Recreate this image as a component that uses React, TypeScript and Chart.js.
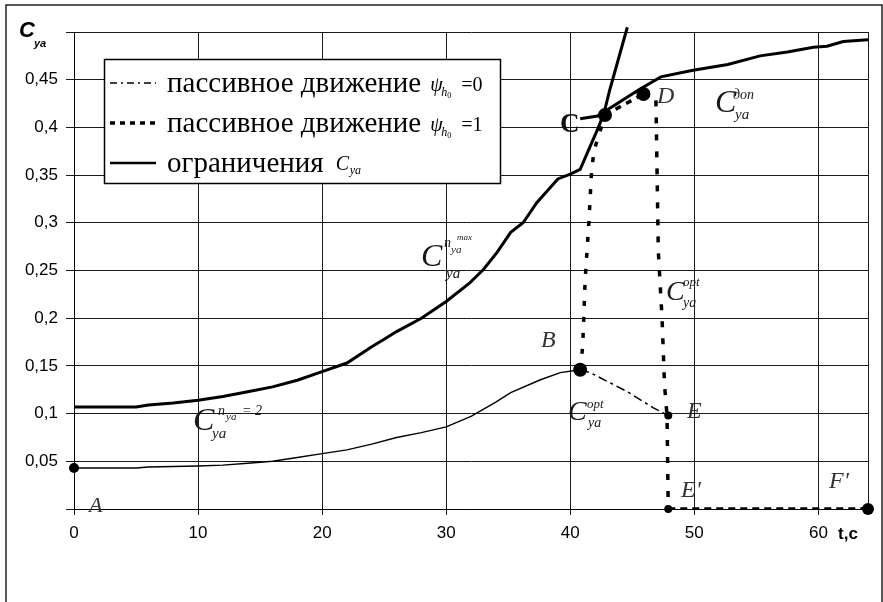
import React, { useEffect, useRef } from 'react';
import { Chart, registerables } from 'chart.js';

Chart.register(...registerables);

// ---- data (t, s ; C_ya) ----
// limit curve n_ya=2 ... n_ya max
const limitT = [0, 5, 6, 8, 10, 12, 14, 16, 18, 20, 22, 24, 25, 26, 28, 30, 31.9, 33, 34.1, 35.2, 36.2, 37.3, 39, 40, 40.8, 42.2, 42.7, 43.2, 44.6];
const limitC = [0.107, 0.107, 0.109, 0.111, 0.114, 0.118, 0.123, 0.128, 0.135, 0.144, 0.153, 0.17, 0.178, 0.186, 0.2, 0.2175, 0.237, 0.251, 0.269, 0.29, 0.3, 0.321, 0.346, 0.351, 0.356, 0.398, 0.414, 0.44, 0.505];
// limit curve C_ya dop
const dopT = [40.8, 42.2, 45.6, 47.3, 49.9, 52.7, 55.3, 57.5, 59.6, 60.7, 62, 64];
const dopC = [0.409, 0.412, 0.44, 0.453, 0.46, 0.466, 0.475, 0.479, 0.484, 0.485, 0.49, 0.492];
// optimal C_ya (A -> B)
const optT = [0, 5, 6, 10, 12, 14, 16, 18, 20, 22, 24, 26, 28, 30, 32, 34, 35.2, 37.6, 39.2, 40.8];
const optC = [0.043, 0.043, 0.044, 0.045, 0.046, 0.048, 0.05, 0.054, 0.058, 0.062, 0.068, 0.075, 0.08, 0.086, 0.097, 0.112, 0.122, 0.1355, 0.143, 0.146];
// passive motion psi=0 (B -> E)
const psi0T = [40.8, 41.6, 44.6, 46.7, 47.9];
const psi0C = [0.146, 0.143, 0.123, 0.106, 0.098];
// passive motion psi=1 (B -> C -> D -> E' -> F')
const psi1RiseT = [40.8, 41.0, 41.2, 41.5, 41.7, 41.9, 42.8];
const psi1RiseC = [0.146, 0.17, 0.24, 0.3, 0.35, 0.375, 0.413];
const psi1TopT = [42.8, 45.9];
const psi1TopC = [0.413, 0.435];
const psi1DropT = [45.9, 46.9, 47.1, 47.4, 47.6, 47.8, 47.9];
const psi1DropC = [0.435, 0.433, 0.27, 0.2, 0.13, 0.098, 0];
const psi1FloorT = [47.9, 64];
const psi1FloorC = [0, 0];
// marked points A, B, C, D, E, E', F'
const pointNames = ['A', 'B', 'C', 'D', 'E', "E'", "F'"];
const pointT = [0, 40.8, 42.8, 45.9, 47.9, 47.9, 64];
const pointC = [0.043, 0.146, 0.413, 0.435, 0.098, 0, 0];
const pointR = [5, 7, 7, 7, 4, 4, 6];

const yMax = 0.5;
const yStep = 0.05;
const xMax = 64;
const xStep = 10;

const zip = (xs: number[], ys: number[]) => xs.map((x, i) => ({ x, y: ys[i] }));
const fmtY = (v: number) => (v <= 0 || v >= yMax - 1e-9 ? '' : String(Math.round(v * 100) / 100).replace('.', ','));

const SERIF = '"Liberation Serif", "Times New Roman", serif';
const SANS = '"Liberation Sans", Arial, sans-serif';

function t(ctx: CanvasRenderingContext2D, s: string, x: number, y: number, font: string, color = '#1a1a1a') {
  ctx.font = font;
  ctx.fillStyle = color;
  ctx.textAlign = 'left';
  ctx.textBaseline = 'alphabetic';
  ctx.fillText(s, x, y);
}

const decor = {
  id: 'decor',
  beforeDraw(chart: any) {
    const { ctx, width, height } = chart;
    ctx.save();
    ctx.fillStyle = '#fff';
    ctx.fillRect(0, 0, width, height);
    ctx.strokeStyle = '#222';
    ctx.lineWidth = 1.5;
    ctx.strokeRect(6, 5, 876, 700);
    ctx.restore();
  },
  beforeDatasetsDraw(chart: any) {
    const { ctx, chartArea: ca } = chart;
    ctx.save();
    ctx.strokeStyle = '#1a1a1a';
    ctx.lineWidth = 1;
    ctx.beginPath();
    ctx.moveTo(Math.round(ca.right) + 0.5, ca.top);
    ctx.lineTo(Math.round(ca.right) + 0.5, ca.bottom);
    ctx.stroke();
    ctx.restore();
  },
  afterDatasetsDraw(chart: any) {
    const ctx: CanvasRenderingContext2D = chart.ctx;
    ctx.save();
    // axis titles
    t(ctx, 'C', 19, 37, `bold italic 22px ${SANS}`, '#000');
    t(ctx, 'ya', 34, 47, `bold italic 11px ${SANS}`, '#000');
    t(ctx, 't,c', 838, 539, `bold 17px ${SANS}`, '#000');

    // legend
    ctx.fillStyle = '#fff';
    ctx.fillRect(104, 59, 397, 124);
    ctx.strokeStyle = '#000';
    ctx.lineWidth = 1.5;
    ctx.setLineDash([]);
    ctx.strokeRect(104.5, 59.5, 396, 124);
    const rows = [92, 132, 172];
    const sample = (y: number, dash: number[], w: number) => {
      ctx.save();
      ctx.strokeStyle = '#000';
      ctx.lineWidth = w;
      ctx.setLineDash(dash);
      ctx.beginPath();
      ctx.moveTo(110, y);
      ctx.lineTo(156, y);
      ctx.stroke();
      ctx.restore();
    };
    sample(rows[0] - 9, [7, 4, 2, 4], 1.5);
    sample(rows[1] - 9, [5, 5], 3.5);
    sample(rows[2] - 9, [], 2.5);
    const main = `29px ${SERIF}`;
    ctx.font = main;
    const base = 'пассивное движение';
    const w = ctx.measureText(base).width;
    ['0', '1'].forEach((val, i) => {
      const y = rows[i];
      t(ctx, base, 167, y, main, '#000');
      const px = 167 + w + 9;
      t(ctx, 'ψ', px, y - 1, `italic 20px ${SERIF}`, '#000');
      t(ctx, 'h', px + 11, y + 4, `italic 12px ${SERIF}`, '#000');
      t(ctx, '0', px + 17, y + 6, `8px ${SERIF}`, '#000');
      t(ctx, '=' + val, px + 31, y - 1, `20px ${SERIF}`, '#000');
    });
    t(ctx, 'ограничения', 167, rows[2], main, '#000');
    ctx.font = main;
    const w3 = ctx.measureText('ограничения').width;
    t(ctx, 'C', 167 + w3 + 12, rows[2] - 2, `italic 20px ${SERIF}`, '#000');
    t(ctx, 'ya', 167 + w3 + 26, rows[2] + 2, `italic 12px ${SERIF}`, '#000');

    // point labels
    const lab = `italic 24px ${SERIF}`;
    t(ctx, pointNames[0], 89, 512, `italic 22px ${SERIF}`, '#333');
    t(ctx, pointNames[1], 541, 347, lab, '#333');
    t(ctx, pointNames[2], 560, 132, `bold 27px ${SERIF}`, '#111');
    t(ctx, pointNames[3], 657, 103, lab, '#333');
    t(ctx, pointNames[4], 687, 418, lab, '#333');
    t(ctx, pointNames[5], 681, 497, lab, '#333');
    t(ctx, pointNames[6], 829, 488, lab, '#333');

    // curve labels
    const bigC = `italic 32px ${SERIF}`;
    // C_ya^{n_ya max}
    t(ctx, 'C', 421, 266, bigC);
    t(ctx, 'n', 444, 247, `italic 14px ${SERIF}`);
    t(ctx, 'ya', 451, 253, `italic 11px ${SERIF}`);
    t(ctx, 'max', 457, 240, `italic 9px ${SERIF}`);
    t(ctx, 'ya', 446, 278, `italic 15px ${SERIF}`);
    // C_ya^{n_ya=2}
    t(ctx, 'C', 193, 430, bigC);
    t(ctx, 'n', 218, 415, `italic 14px ${SERIF}`);
    t(ctx, 'ya', 226, 420, `italic 11px ${SERIF}`);
    t(ctx, '= 2', 242, 415, `italic 14px ${SERIF}`);
    t(ctx, 'ya', 212, 438, `italic 15px ${SERIF}`);
    // C_ya^opt near B
    t(ctx, 'C', 568, 420, `italic 28px ${SERIF}`);
    t(ctx, 'opt', 587, 408, `italic 13px ${SERIF}`);
    t(ctx, 'ya', 588, 427, `italic 14px ${SERIF}`);
    // C_ya^opt on the right
    t(ctx, 'C', 666, 300, `italic 28px ${SERIF}`);
    t(ctx, 'opt', 683, 286, `italic 13px ${SERIF}`);
    t(ctx, 'ya', 683, 307, `italic 14px ${SERIF}`);
    // C_ya^доп
    t(ctx, 'C', 715, 112, bigC);
    t(ctx, 'доп', 733, 99, `italic 14px ${SERIF}`);
    t(ctx, 'ya', 735, 119, `italic 15px ${SERIF}`);
    ctx.restore();
  },
};

export default function App() {
  const ref = useRef<HTMLCanvasElement | null>(null);
  useEffect(() => {
    if (!ref.current) return;
    const line = (data: any[], width: number, dash: number[] = [], extra: any = {}) => ({
      data,
      showLine: true,
      borderColor: '#000',
      backgroundColor: '#000',
      borderWidth: width,
      borderDash: dash,
      pointRadius: 0,
      tension: 0,
      ...extra,
    });
    const chart = new Chart(ref.current, {
      type: 'scatter',
      data: {
        datasets: [
          line(zip(limitT, limitC), 3, [], { clip: { left: 0, top: 8, right: 0, bottom: 0 } }),
          line(zip(dopT, dopC), 3),
          line(zip(optT, optC), 1.4),
          line(zip(psi0T, psi0C), 1.5, [9, 4, 3, 4]),
          line(zip(psi1RiseT, psi1RiseC), 3.5, [5, 11]),
          line(zip(psi1TopT, psi1TopC), 3.5, [6, 6]),
          line(zip(psi1DropT, psi1DropC), 3.5, [6, 11]),
          line(zip(psi1FloorT, psi1FloorC), 3.5, [7, 5]),
          {
            data: zip(pointT, pointC),
            showLine: false,
            pointRadius: pointR,
            pointBackgroundColor: '#000',
            pointBorderColor: '#000',
            pointBorderWidth: 0,
            clip: false,
          },
        ] as any,
      },
      options: {
        animation: false,
        responsive: false,
        devicePixelRatio: 1,
        layout: { padding: { top: 32, right: 15, left: 0, bottom: 0 } },
        plugins: { legend: { display: false }, tooltip: { enabled: false } },
        scales: {
          x: {
            type: 'linear',
            min: 0,
            max: xMax,
            afterFit: (s: any) => {
              s.height = 93;
            },
            ticks: {
              stepSize: xStep,
              includeBounds: false,
              color: '#000',
              font: { family: SANS, size: 17 },
              padding: 8,
              maxRotation: 0,
            },
            grid: { color: '#1a1a1a', lineWidth: 1, tickLength: 6, drawTicks: true },
            border: { display: true, color: '#000', width: 1 },
          },
          y: {
            type: 'linear',
            min: 0,
            max: yMax,
            afterFit: (s: any) => {
              s.width = 74;
            },
            ticks: {
              stepSize: yStep,
              color: '#000',
              font: { family: SANS, size: 17 },
              padding: 8,
              callback: (v: any) => fmtY(Number(v)),
            },
            grid: { color: '#1a1a1a', lineWidth: 1, tickLength: 8, drawTicks: true },
            border: { display: true, color: '#000', width: 1 },
          },
        },
      } as any,
      plugins: [decor as any],
    });
    return () => chart.destroy();
  }, []);
  return (
    <div style={{ position: 'absolute', left: 0, top: 0, width: 883, height: 602 }}>
      <canvas ref={ref} width={883} height={602} style={{ width: 883, height: 602, display: 'block' }} />
    </div>
  );
}
